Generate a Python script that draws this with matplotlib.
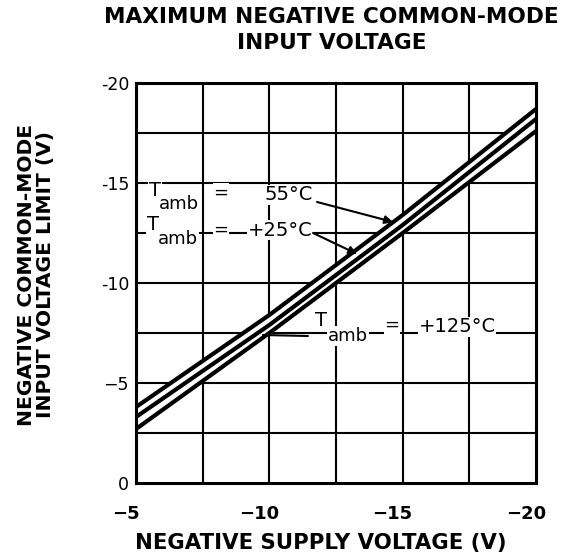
import matplotlib
matplotlib.use("Agg")
import matplotlib.pyplot as plt
import matplotlib.transforms as mtransforms

# ---- data ----
supply_v = [-5, -10, -15, -20]
t55 = [-3.8, -8.4, -13.4, -18.7]
t25 = [-3.3, -7.9, -12.9, -18.2]
t125 = [-2.7, -7.5, -12.5, -17.6]
x_ticks = [-5, -10, -15, -20]
x_ticklabels = ["\u22125", "\u221210", "\u221215", "\u221220"]
y_ticks = [-20, -15, -10, -5, 0]
y_ticklabels = ["-20", "-15", "-10", "\u22125", "0"]
grid_x = [-7.5, -10, -12.5, -15, -17.5]
grid_y = [-2.5, -5, -7.5, -10, -12.5, -15, -17.5]

plt.rcParams['font.family'] = ['DejaVu Sans']

fig = plt.figure(figsize=(5.79, 5.57), dpi=100)
ax = fig.add_axes([136/579, 1-483/557, 400/579, 400/557])
ax.set_xlim(-5, -20)
ax.set_ylim(0, -20)

for gx in grid_x:
    ax.axvline(gx, color='black', lw=1.5, zorder=1)
for gy in grid_y:
    ax.axhline(gy, color='black', lw=1.5, zorder=1)

# white fill between the curves of the band
ax.plot(supply_v, t25, color='white', lw=12, solid_capstyle='butt', zorder=2)
for ys in (t55, t25, t125):
    ax.plot(supply_v, ys, color='black', lw=3.0, solid_capstyle='butt', zorder=3)

for s in ax.spines.values():
    s.set_linewidth(2.2)

ax.set_xticks(x_ticks)
ax.set_xticklabels(x_ticklabels, fontsize=13, fontweight='bold')
ax.set_yticks(y_ticks)
ax.set_yticklabels(y_ticklabels, fontsize=12.5)
ax.tick_params(axis='both', length=0)
ax.tick_params(axis='x', pad=16)
ax.tick_params(axis='y', pad=5)
offset = mtransforms.ScaledTranslation(-10/100, 0, fig.dpi_scale_trans)
for lbl in ax.get_xticklabels():
    lbl.set_transform(lbl.get_transform() + offset)

fig.text(331/579, 1-17/557, "MAXIMUM NEGATIVE COMMON-MODE", ha='center', va='center',
         fontsize=15.6, fontweight='bold')
fig.text(332/579, 1-43/557, "INPUT VOLTAGE", ha='center', va='center',
         fontsize=15.6, fontweight='bold')
fig.text(321/579, 1-543/557, "NEGATIVE SUPPLY VOLTAGE (V)", ha='center', va='center',
         fontsize=15.3, fontweight='bold')
fig.text(36/579, 1-275/557, "NEGATIVE COMMON-MODE\nINPUT VOLTAGE LIMIT (V)", rotation=90,
         ha='center', va='center', fontsize=14.6, fontweight='bold', linespacing=1.0)

bb = dict(facecolor='white', edgecolor='none', pad=0.5)

def tamb(xT, yT, xa, ya, xe, ye, xv, yv, val):
    ax.text(xT, yT, "T", fontsize=14, ha='center', va='center', zorder=5, bbox=bb)
    ax.text(xa, ya, "amb", fontsize=13, ha='center', va='center', zorder=5, bbox=bb)
    ax.text(xe, ye, "=", fontsize=13, ha='center', va='center', zorder=5, bbox=bb)
    ax.text(xv, yv, val, fontsize=14, ha='center', va='center', zorder=5, bbox=bb)

tamb(-5.71, -14.65, -6.61, -13.95, -8.19, -14.5, -10.74, -14.4, "55\u00b0C")
tamb(-5.64, -12.9, -6.57, -12.2, -8.19, -12.65, -10.4, -12.65, "+25\u00b0C")
tamb(-11.94, -8.1, -12.95, -7.35, -14.6, -7.9, -17.04, -7.8, "+125\u00b0C")

arrow = dict(arrowstyle='-|>', color='black', lw=1.5, mutation_scale=12, shrinkA=0, shrinkB=0)
ax.annotate("", xy=(-14.64, -13.05), xytext=(-11.79, -14.05), arrowprops=arrow, zorder=6)
ax.annotate("", xy=(-13.29, -11.45), xytext=(-11.64, -12.5), arrowprops=arrow, zorder=6)
ax.annotate("", xy=(-9.76, -7.4), xytext=(-11.45, -7.35),
            arrowprops=dict(arrowstyle='-', color='black', lw=1.5, shrinkA=0, shrinkB=0), zorder=6)

fig.savefig("out.png", dpi=100)
